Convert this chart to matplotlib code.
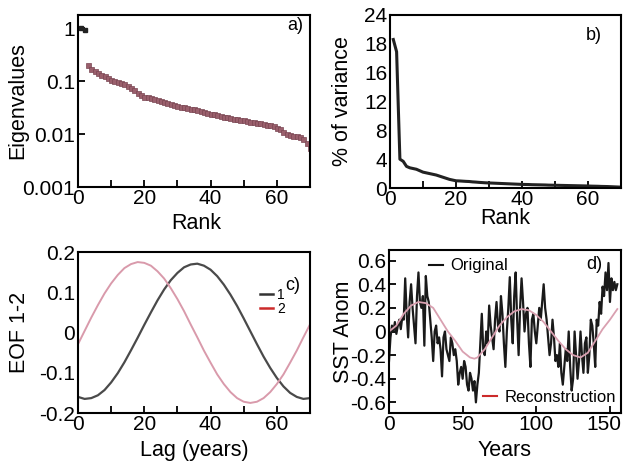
import matplotlib
matplotlib.use("Agg")
import matplotlib.pyplot as plt
from matplotlib.lines import Line2D
from matplotlib.ticker import MultipleLocator, FixedLocator, NullLocator
from matplotlib.transforms import ScaledTranslation

plt.rcParams['font.family'] = ['Liberation Sans', 'DejaVu Sans']
plt.rcParams['axes.unicode_minus'] = False

# ---------------- data ----------------
rank = list(range(1, 71))
eigenvalues = [1.0, 0.9, 0.2, 0.17, 0.155, 0.14, 0.13, 0.122, 0.112, 0.104,
               0.1, 0.096, 0.091, 0.086, 0.08, 0.074, 0.067, 0.06, 0.054, 0.05,
               0.049, 0.047, 0.046, 0.044, 0.042, 0.04, 0.038, 0.037, 0.035, 0.034,
               0.033, 0.032, 0.031, 0.03, 0.029, 0.028, 0.027, 0.026, 0.025, 0.024,
               0.0235, 0.023, 0.022, 0.021, 0.0205, 0.02, 0.0195, 0.019, 0.0185, 0.018,
               0.0175, 0.017, 0.0167, 0.0163, 0.016, 0.0155, 0.015, 0.0145, 0.014, 0.013,
               0.0122, 0.0108, 0.0098, 0.0094, 0.0092, 0.009, 0.0088, 0.0082, 0.0068, 0.0055]

pct_variance = [20.6, 18.9, 4.0, 3.7, 3.0, 2.8, 2.7, 2.6, 2.4, 2.2,
                2.1, 2.0, 1.9, 1.8, 1.65, 1.5, 1.35, 1.2, 1.1, 1.0,
                0.98, 0.95, 0.92, 0.9, 0.85, 0.82, 0.78, 0.75, 0.72, 0.7,
                0.68, 0.66, 0.64, 0.62, 0.6, 0.58, 0.56, 0.54, 0.52, 0.5,
                0.49, 0.48, 0.46, 0.45, 0.44, 0.43, 0.42, 0.4, 0.39, 0.38,
                0.37, 0.36, 0.35, 0.34, 0.33, 0.32, 0.31, 0.3, 0.29, 0.28,
                0.26, 0.25, 0.24, 0.22, 0.21, 0.2, 0.18, 0.16, 0.14, 0.12]

lag = list(range(0, 71, 2))
eof1 = [-0.160, -0.165, -0.163, -0.156, -0.143, -0.124, -0.101, -0.074, -0.044, -0.013,
        0.019, 0.050, 0.080, 0.107, 0.130, 0.148, 0.162, 0.169, 0.171, 0.166,
        0.156, 0.140, 0.119, 0.094, 0.066, 0.035, 0.003, -0.029, -0.060, -0.088,
        -0.113, -0.134, -0.150, -0.160, -0.165, -0.163]
eof2 = [-0.029, 0.004, 0.037, 0.068, 0.097, 0.122, 0.143, 0.160, 0.170, 0.175,
        0.173, 0.166, 0.152, 0.134, 0.110, 0.083, 0.053, 0.020, -0.012, -0.045,
        -0.075, -0.104, -0.128, -0.148, -0.163, -0.172, -0.175, -0.172, -0.163, -0.148,
        -0.128, -0.104, -0.075, -0.045, -0.012, 0.020]

years = list(range(0, 156))
sst_original = [
    -0.25, -0.05, 0.05, 0.0, 0.08, -0.02, 0.05, 0.1, 0.02, 0.12,
    0.1, 0.45, 0.15, -0.05, 0.25, 0.4, 0.2, 0.05, -0.1, 0.3,
    0.5, 0.25, 0.2, 0.3, -0.12, 0.47, 0.3, 0.25, 0.1, -0.05,
    -0.25, 0.0, 0.05, -0.1, -0.05, -0.15, -0.38, -0.05, 0.0, -0.15,
    -0.2, -0.25, -0.05, -0.1, -0.2, -0.15, -0.25, -0.45, -0.35, -0.3,
    -0.4, -0.25, -0.3, -0.45, -0.5, -0.35, -0.4, -0.5, -0.42, -0.6,
    -0.45, -0.35, -0.1, 0.15, -0.15, -0.2, 0.0, -0.1, 0.22, 0.05,
    -0.05, -0.15, 0.1, 0.25, 0.05, 0.0, 0.3, 0.15, -0.1, -0.3,
    0.0, 0.2, 0.46, 0.1, -0.1, 0.3, 0.5, 0.1, -0.2, 0.2,
    0.45, 0.25, 0.0, 0.15, 0.2, -0.1, -0.3, 0.1, 0.15, 0.0,
    -0.1, 0.05, 0.2, 0.1, 0.25, 0.4, 0.2, 0.1, -0.05, -0.2,
    -0.1, 0.1, -0.05, -0.25, -0.2, -0.3, -0.1, -0.35, -0.45, -0.3,
    -0.15, -0.25, 0.0, -0.3, -0.5, -0.4, 0.0, -0.2, -0.4, -0.25,
    0.0, -0.2, -0.35, -0.1, -0.05, -0.35, -0.2, 0.1, 0.05, -0.1,
    -0.3, 0.1, 0.05, 0.25, 0.15, 0.38, 0.3, 0.5, 0.35, 0.58,
    0.25, 0.45, 0.35, 0.42, 0.35, 0.4]
recon_years = [0, 5, 10, 15, 20, 25, 30, 35, 40, 45, 50, 55, 58, 60, 65, 70, 75, 80,
               85, 90, 95, 100, 105, 110, 115, 120, 125, 130, 135, 140, 145, 150, 155]
sst_recon = [0.0, 0.05, 0.15, 0.22, 0.25, 0.24, 0.2, 0.1, 0.0, -0.08, -0.17, -0.22,
             -0.23, -0.22, -0.15, -0.05, 0.05, 0.12, 0.17, 0.19, 0.18, 0.14, 0.08,
             0.0, -0.08, -0.15, -0.2, -0.22, -0.18, -0.08, 0.02, 0.1, 0.19]

# ---------------- figure ----------------
W, H = 623, 461
fig = plt.figure(figsize=(W / 100, H / 100), dpi=100)

def box(l, t, r, b):
    return [l / W, 1 - b / H, (r - l) / W, (b - t) / H]

FS = 15.5
TFS = 15
axA = fig.add_axes(box(78, 15, 310, 187))
axB = fig.add_axes(box(390, 15, 621, 188))
axC = fig.add_axes(box(78, 252, 310, 413))
axD = fig.add_axes(box(389, 250, 621, 413))

for ax in (axA, axB, axC, axD):
    for s in ax.spines.values():
        s.set_linewidth(1.5)
    ax.tick_params(which='both', direction='in', labelsize=TFS, width=1.3,
                   length=5, top=False, right=False)
    ax.tick_params(axis='y', pad=2)
    ax.tick_params(axis='x', pad=1.5)

# ---- a) ----
axA.set_yscale('log')
axA.plot(rank[:2], eigenvalues[:2], 's', ms=3.5, color='#222222')
axA.plot(rank[2:], eigenvalues[2:], 's', ms=3.6, color='#9a5f6c', mec='#7a4652', mew=0.5)
axA.set_xlim(0, 70)
axA.set_ylim(0.001, 1.76)
axA.yaxis.set_major_locator(FixedLocator([0.001, 0.01, 0.1, 1]))
axA.set_yticklabels(['0.001', '0.01', '0.1', '1'])
axA.yaxis.set_minor_locator(NullLocator())
axA.xaxis.set_major_locator(MultipleLocator(20))
axA.xaxis.set_minor_locator(MultipleLocator(10))
axA.set_xlabel('Rank', fontsize=FS, labelpad=0)
axA.set_ylabel('Eigenvalues', fontsize=FS)
axA.yaxis.set_label_coords(-0.215, 0.5)
axA.xaxis.set_label_coords(0.51, -0.15)
axA.text(0.935, 0.94, 'a)', transform=axA.transAxes, fontsize=13, ha='center', va='center')

# ---- b) ----
axB.plot(rank, pct_variance, '-', lw=2.2, color='#222222')
axB.set_xlim(0, 70)
axB.set_ylim(0, 24)
axB.yaxis.set_major_locator(FixedLocator([0, 4, 8, 12, 16, 20, 24]))
axB.set_yticklabels(['0', '4', '8', '12', '16', '18', '24'])
axB.tick_params(axis='y', length=0)
axB.xaxis.set_major_locator(MultipleLocator(20))
axB.xaxis.set_minor_locator(MultipleLocator(10))
axB.set_xlabel('Rank', fontsize=FS, labelpad=0)
axB.set_ylabel('% of variance', fontsize=FS)
axB.yaxis.set_label_coords(-0.16, 0.5)
axB.xaxis.set_label_coords(0.5, -0.115)
axB.text(0.883, 0.884, 'b)', transform=axB.transAxes, fontsize=13, ha='center', va='center')

# ---- c) ----
axC.plot(lag, eof1, '-', lw=1.6, color='#4a4a4a')
axC.plot(lag, eof2, '-', lw=1.4, color='#d99aab')
axC.set_xlim(0, 70)
axC.set_ylim(-0.2, 0.2)
axC.yaxis.set_major_locator(FixedLocator([-0.2, -0.1, 0, 0.1, 0.2]))
axC.set_yticklabels(['-0.2', '-0.1', '0', '0.1', '0.2'])
axC.tick_params(axis='y', length=0)
axC.xaxis.set_major_locator(MultipleLocator(20))
axC.xaxis.set_minor_locator(MultipleLocator(10))
axC.set_xlabel('Lag (years)', fontsize=FS)
axC.set_ylabel('EOF 1-2', fontsize=FS)
axC.yaxis.set_label_coords(-0.205, 0.5)
axC.xaxis.set_label_coords(0.5, -0.165)
axC.text(0.927, 0.795, 'c)', transform=axC.transAxes, fontsize=13, ha='center', va='center')
hc = [Line2D([], [], color='#333333', lw=1.8), Line2D([], [], color='#cc2a2a', lw=1.8)]
axC.legend(hc, ['1', '2'], loc='center left', bbox_to_anchor=(0.785, 0.69),
           frameon=False, fontsize=10, handlelength=0.9, handletextpad=0.3,
           labelspacing=0.0, borderpad=0, borderaxespad=0)

# ---- d) ----
axD.plot(years, sst_original, '-', lw=1.6, color='#1a1a1a')
axD.plot(recon_years, sst_recon, '-', lw=1.3, color='#d9a0b0')
axD.set_xlim(0, 157.5)
axD.set_ylim(-0.69, 0.69)
axD.yaxis.set_major_locator(FixedLocator([-0.6, -0.4, -0.2, 0, 0.2, 0.4, 0.6]))
axD.set_yticklabels(['-0.6', '-0.4', '-0.2', '0', '0.2', '0.4', '0.6'])
axD.xaxis.set_major_locator(FixedLocator([0, 50, 100, 150]))
axD.set_xticklabels(['0', '50', '100', '150'])
lab150 = axD.get_xticklabels()[-1]
lab150.set_transform(lab150.get_transform() + ScaledTranslation(-6 / 100, 0, fig.dpi_scale_trans))
axD.set_xlabel('Years', fontsize=FS)
axD.set_ylabel('SST Anom', fontsize=FS)
axD.yaxis.set_label_coords(-0.15, 0.5)
axD.xaxis.set_label_coords(0.5, -0.165)
axD.text(0.884, 0.908, 'd)', transform=axD.transAxes, fontsize=13, ha='center', va='center')
leg1 = axD.legend([Line2D([], [], color='#111111', lw=1.5)], ['Original'],
                  loc='center left', bbox_to_anchor=(0.172, 0.902), frameon=False,
                  fontsize=12, handlelength=0.85, handletextpad=0.45,
                  borderpad=0, borderaxespad=0)
axD.add_artist(leg1)
axD.legend([Line2D([], [], color='#cc2a2a', lw=1.5)], ['Reconstruction'],
           loc='center left', bbox_to_anchor=(0.405, 0.098), frameon=False,
           fontsize=12, handlelength=0.85, handletextpad=0.45,
           borderpad=0, borderaxespad=0)

fig.savefig('out.png', dpi=100)
